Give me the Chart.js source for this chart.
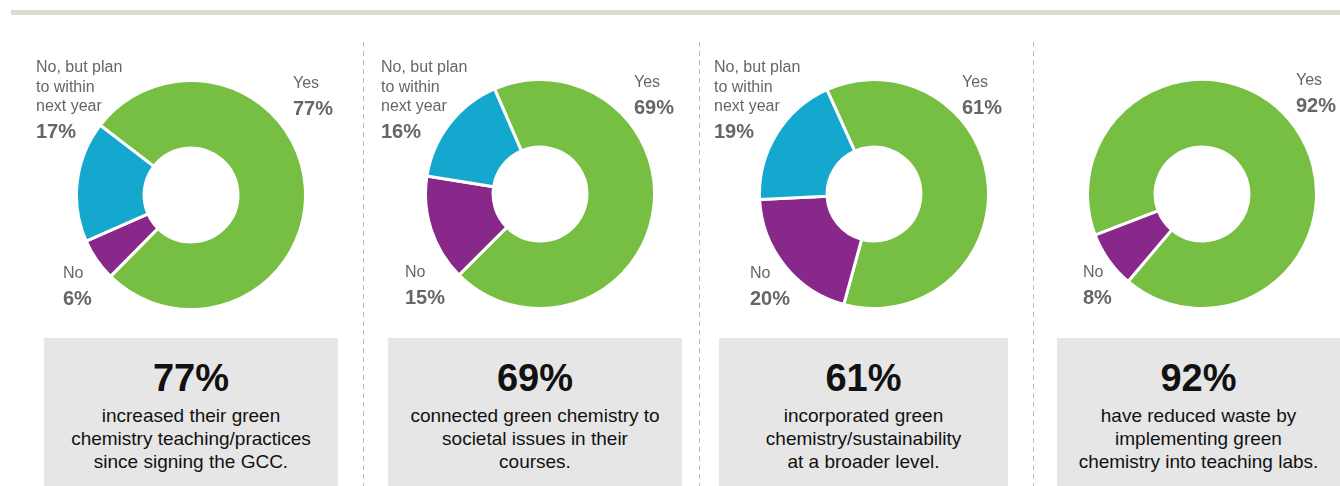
<!DOCTYPE html>
<html>
<head>
<meta charset="utf-8">
<script src="https://cdn.jsdelivr.net/npm/chart.js@4"></script>
<style>
  body { margin: 0; width: 1340px; height: 486px; overflow: hidden; background: #fff; position: relative;
         font-family: "Liberation Sans", Arial, sans-serif; }
  .topbar { position: absolute; left: 11px; right: 0; top: 10px; height: 5px; background: #dfdbcc; }
  .divider { position: absolute; top: 42px; bottom: 0; width: 1px;
             background: repeating-linear-gradient(to bottom, #bcbcbc 0 5px, transparent 5px 9px); }
  canvas { position: absolute; }
  .lbl { position: absolute; color: #666; font-size: 16px; line-height: 19.5px; white-space: nowrap; }
  .lbl b { display: block; font-size: 20px; line-height: 31px; }
  .box { position: absolute; top: 338px; height: 148px; background: #e6e6e6; text-align: center; color: #111; }
  .box .big { font-weight: bold; font-size: 38px; line-height: 40px; margin-top: 20px; white-space: nowrap; }
  .box .desc { font-size: 19px; line-height: 23px; margin-top: 6px; white-space: nowrap; }
</style>
</head>
<body>
<div class="topbar"></div>
<div id="root"></div>
<script>
// data
const categories = ['Yes', 'No', 'No, but plan\nto within\nnext year'];
const yesPct  = [77, 69, 61, 92];
const noPct   = [6, 15, 20, 8];
const planPct = [17, 16, 19, null];
const descriptions = [
  ['increased their green', 'chemistry teaching/practices', 'since signing the GCC.'],
  ['connected green chemistry to', 'societal issues in their', 'courses.'],
  ['incorporated green', 'chemistry/sustainability', 'at a broader level.'],
  ['have reduced waste by', 'implementing green', 'chemistry into teaching labs.']
];

// layout
const colors = ['#76bf43', '#88288b', '#15a8cf'];
const centers = [[191, 195], [540, 194], [873.5, 194], [1201.5, 193.5]];
const rotations = [-52.5, -23.4, -24.3, -111];
const size = 232;
const dividers = [363, 699, 1033];
const boxes = [[44, 294], [388, 294], [719, 289], [1057, 283]];
// label block positions [left, top] for Yes, No, Plan
const labelPos = [
  [[293, 73], [63, 263], [36, 57]],
  [[634, 72], [405, 262], [381, 57]],
  [[962, 72], [750, 263], [714, 57]],
  [[1296, 70], [1083, 262], null]
];

const root = document.getElementById('root');

dividers.forEach(x => {
  const d = document.createElement('div');
  d.className = 'divider';
  d.style.left = x + 'px';
  root.appendChild(d);
});

yesPct.forEach((yes, i) => {
  const values = [yes, noPct[i], planPct[i]];
  const labels = [], data = [], bg = [];
  values.forEach((v, k) => {
    if (v == null) return;
    labels.push(categories[k]); data.push(v); bg.push(colors[k]);
  });

  const cv = document.createElement('canvas');
  cv.width = size; cv.height = size;
  cv.style.left = (centers[i][0] - size / 2) + 'px';
  cv.style.top = (centers[i][1] - size / 2) + 'px';
  root.appendChild(cv);

  new Chart(cv, {
    type: 'doughnut',
    data: {
      labels: labels,
      datasets: [{
        data: data,
        backgroundColor: bg,
        borderColor: '#fff',
        borderWidth: 3,
        hoverOffset: 0
      }]
    },
    options: {
      responsive: false,
      animation: false,
      cutout: '41%',
      rotation: rotations[i],
      layout: { padding: 0 },
      plugins: { legend: { display: false }, tooltip: { enabled: false } }
    }
  });

  // slice labels
  values.forEach((v, k) => {
    if (v == null || !labelPos[i][k]) return;
    const el = document.createElement('div');
    el.className = 'lbl';
    el.style.left = labelPos[i][k][0] + 'px';
    el.style.top = labelPos[i][k][1] + 'px';
    el.innerHTML = categories[k].split('\n').join('<br>') + '<b>' + v + '%</b>';
    root.appendChild(el);
  });

  // summary box
  const box = document.createElement('div');
  box.className = 'box';
  box.style.left = boxes[i][0] + 'px';
  box.style.width = boxes[i][1] + 'px';
  box.innerHTML = '<div class="big">' + yes + '%</div><div class="desc">' +
    descriptions[i].join('<br>') + '</div>';
  root.appendChild(box);
});
</script>
</body>
</html>
